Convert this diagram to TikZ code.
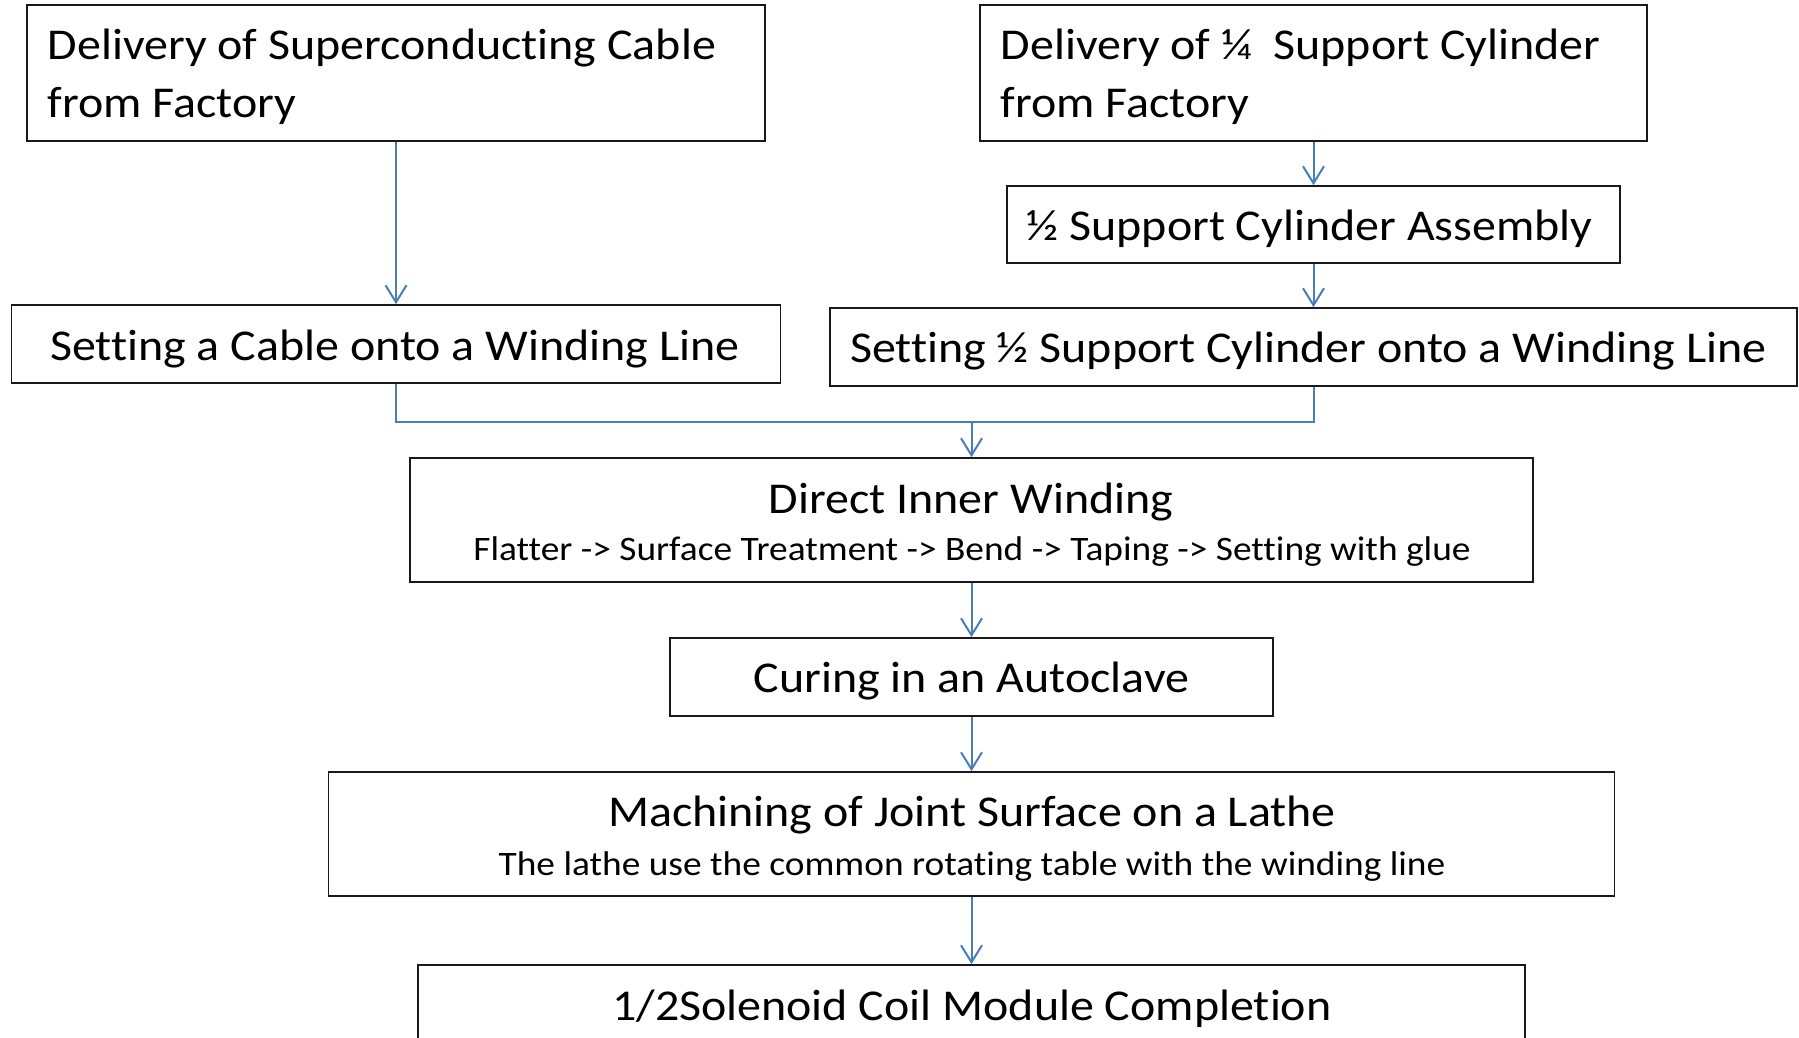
\documentclass[tikz,border=0pt]{standalone}
\usepackage{fontspec}
\setmainfont{Carlito}[FakeStretch=1.09, Ligatures=NoCommon]
\usetikzlibrary{arrows.meta}
\definecolor{connblue}{RGB}{74,126,187}
\begin{document}
\begin{tikzpicture}[x=1pt,y=-1pt,
  box/.style={draw=black!90, line width=1.7pt, inner sep=0pt},
  big/.style={font=\fontsize{44}{53}\selectfont, inner sep=0pt},
  small/.style={font=\fontsize{34.3}{40}\selectfont, inner sep=0pt},
  conn/.style={draw=connblue, line width=2pt, -{Straight Barb[length=17pt,width=21pt]}},
  joinline/.style={draw=connblue, line width=2pt}]
\clip (0,0) rectangle (1799,1038);
\fill[white] (0,0) rectangle (1799,1038);
% boxes
\node[box, minimum width=738pt, minimum height=136pt] (A) at (396,73) {};
\node[box, minimum width=667pt, minimum height=136pt] (C) at (1313.5,73) {};
\node[box, minimum width=613pt, minimum height=77pt] (D) at (1313.5,224.5) {};
\node[box, minimum width=769pt, minimum height=78pt] (B) at (396,344) {};
\node[box, minimum width=967pt, minimum height=78pt] (E) at (1313.5,347) {};
\node[box, minimum width=1123pt, minimum height=124pt] (F) at (971.5,520) {};
\node[box, minimum width=603pt, minimum height=78pt] (G) at (971.5,677) {};
\node[box, minimum width=1286pt, minimum height=124pt] (H) at (971.5,834) {};
\node[box, minimum width=1107pt, minimum height=125pt] (I) at (971.5,1027.5) {};
% texts
\node[big, anchor=base west] (tA1) at (47.5,60) {Delivery of Superconducting Cable};
\node[big, anchor=base west] (tA2) at (47.5,118) {from Factory};
\node[big, anchor=base west] (tC1) at (1000.5,60) {Delivery of ¼\ \ Support Cylinder};
\node[big, anchor=base west] (tC2) at (1000.5,118) {from Factory};
\node[big, anchor=base] (tD) at (1309.5,240) {½ Support Cylinder Assembly};
\node[big, anchor=base] (tB) at (395,360) {Setting a Cable onto a Winding Line};
\node[big, anchor=base] (tE) at (1308.5,362) {Setting ½ Support Cylinder onto a Winding Line};
\node[big, anchor=base] (tF1) at (971,513) {Direct Inner Winding};
\node[small, anchor=base] (tF2) at (972,560) {Flatter -> Surface Treatment -> Bend -> Taping -> Setting with glue};
\node[big, anchor=base] (tG) at (971.5,692) {Curing in an Autoclave};
\node[big, anchor=base] (tH1) at (972,826) {Machining of Joint Surface on a Lathe};
\node[small, anchor=base] (tH2) at (972,875) {The lathe use the common rotating table with the winding line};
\node[big, anchor=base] (tI) at (972,1020) {1/2Solenoid Coil Module Completion};
% connectors
\coordinate (J) at (971.5,421.5);
\draw[conn] (A.south) -- (B.north);
\draw[conn] (C.south) -- (D.north);
\draw[conn] (D.south) -- (E.north);
\draw[joinline] (B.south) |- (J);
\draw[joinline] (E.south) |- (J);
\draw[conn] (J) -- (F.north);
\draw[conn] (F.south) -- (G.north);
\draw[conn] (G.south) -- (H.north);
\draw[conn] (H.south) -- (I.north);
\end{tikzpicture}
\end{document}
